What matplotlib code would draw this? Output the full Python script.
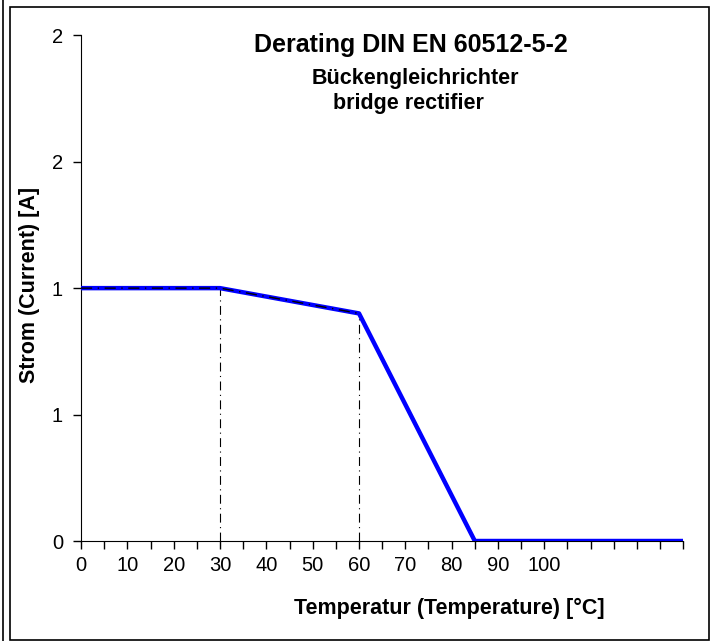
import matplotlib
matplotlib.use("Agg")
import matplotlib.pyplot as plt
from matplotlib.patches import Rectangle

plt.rcParams["font.family"] = ["Liberation Sans", "DejaVu Sans"]

# derating curve
temp = [0, 30, 60, 85, 130]
current = [1.0, 1.0, 0.9, 0.0, 0.0]

# guide lines (dash-dot)
guide_x = [0, 30, 60]
guide_y = [1.0, 1.0, 0.9]
knee_x = [30, 60]
knee_y = [1.0, 0.9]

x_ticks_major = list(range(0, 101, 10))
x_ticks_minor = list(range(0, 131, 5))
y_ticks = [0, 0.5, 1.0, 1.5, 2.0]
y_labels = ["0", "1", "1", "2", "2"]

fig = plt.figure(figsize=(7.17, 6.41), dpi=100)
ax = fig.add_axes([0.113, 0.156, 0.840, 0.789])

ax.plot(temp, current, color="#0000ff", lw=3.2, solid_joinstyle="round", zorder=3)
ax.plot(guide_x, guide_y, color="black", lw=1, ls=(0, (8, 4, 1, 4)), zorder=4)
for x, y in zip(knee_x, knee_y):
    ax.plot([x, x], [0, y], color="black", lw=0.8, ls=(0, (8, 4, 1, 4)), zorder=2)

ax.set_xlim(0, 130)
ax.set_ylim(0, 2)
ax.spines["top"].set_visible(False)
ax.spines["right"].set_visible(False)
ax.set_xticks(x_ticks_minor)
ax.set_xticklabels([str(t) if t in x_ticks_major else "" for t in x_ticks_minor])
ax.set_yticks(y_ticks)
ax.set_yticklabels(y_labels)
ax.tick_params(axis="both", direction="out", length=6, width=1, labelsize=14.5)
ax.tick_params(axis="x", pad=5)
ax.tick_params(axis="y", pad=7)

ax.set_xlabel("Temperatur (Temperature) [°C]", fontsize=15.5, fontweight="bold")
ax.xaxis.set_label_coords(0.612, -0.134)
ax.xaxis.label.set_va("center")
ax.set_ylabel("Strom (Current) [A]", fontsize=15.5, fontweight="bold")
ax.yaxis.set_label_coords(-0.085, 0.507)
ax.yaxis.label.set_va("center")

fig.text(0.573, 0.930, "Derating DIN EN 60512-5-2", fontsize=18, fontweight="bold",
         ha="center", va="center")
fig.text(0.579, 0.878, "Bückengleichrichter", fontsize=15.5, fontweight="bold",
         ha="center", va="center")
fig.text(0.570, 0.838, "bridge rectifier", fontsize=15.5, fontweight="bold",
         ha="center", va="center")

# outer frame
fig.patches.append(Rectangle((0.014, 0.002), 0.975, 0.987, transform=fig.transFigure,
                             fill=False, ec="black", lw=1.2))
fig.add_artist(plt.Line2D([0.004, 0.004], [0.0, 1.0], transform=fig.transFigure,
                          color="black", lw=1.2))

fig.savefig("out.png", dpi=100)
